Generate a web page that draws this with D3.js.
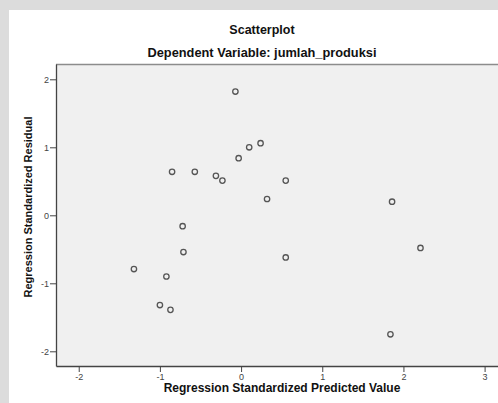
<!DOCTYPE html>
<html>
<head>
<meta charset="utf-8">
<script src="https://cdn.jsdelivr.net/npm/d3@7"></script>
<style>
  body { margin: 0; background: #dcdcdc; }
  svg { display: block; font-family: "Liberation Sans", Arial, sans-serif; }
</style>
</head>
<body>
<svg id="chart" width="498" height="403"></svg>
<script>
// values
const predicted = [-0.07, 0.10, 0.24, -0.03, -0.85, -0.57, -0.31, -0.23, 0.55, 0.32,
                   -0.72, -0.71, 0.55, -1.32, -0.92, -1.00, -0.87, 1.86, 2.21, 1.84];
const residual  = [1.82, 1.00, 1.06, 0.84, 0.64, 0.64, 0.58, 0.51, 0.51, 0.24,
                   -0.16, -0.54, -0.62, -0.79, -0.90, -1.32, -1.39, 0.20, -0.48, -1.75];
const xTicks = [-2, -1, 0, 1, 2, 3];
const yTicks = [-2, -1, 0, 1, 2];

const svg = d3.select('#chart');
const plot = {left: 56, right: 498, top: 64, bottom: 366};

// white panel behind the chart
svg.append('rect')
    .attr('x', 9).attr('y', 10)
    .attr('width', 489).attr('height', 393)
    .attr('fill', '#fff');

const x = d3.scaleLinear().domain([-2.28, 3.165]).range([plot.left, plot.right]);
const y = d3.scaleLinear().domain([-2.216, 2.225]).range([plot.bottom, plot.top]);

svg.append('rect')
    .attr('x', plot.left).attr('y', plot.top)
    .attr('width', plot.right - plot.left).attr('height', plot.bottom - plot.top)
    .attr('fill', '#f0f0f0');

// top frame line
svg.append('line')
    .attr('x1', plot.left).attr('x2', plot.right)
    .attr('y1', plot.top + 0.5).attr('y2', plot.top + 0.5)
    .attr('stroke', '#8c8c8c').attr('stroke-width', 1.5);

const fmt = d => String(d);

const xAxis = svg.append('g')
    .attr('transform', 'translate(0,' + plot.bottom + ')')
    .call(d3.axisBottom(x).tickValues(xTicks).tickFormat(fmt).tickSize(6).tickSizeOuter(0));
const yAxis = svg.append('g')
    .attr('transform', 'translate(' + plot.left + ',0)')
    .call(d3.axisLeft(y).tickValues(yTicks).tickFormat(fmt).tickSize(6).tickSizeOuter(0));

[xAxis, yAxis].forEach(g => {
    g.select('.domain').attr('stroke', '#444').attr('stroke-width', 1.3);
    g.selectAll('.tick line').attr('stroke', '#444');
    g.selectAll('.tick text')
        .attr('fill', '#444')
        .style('font-size', '9px')
        .style('font-family', '"Liberation Sans", Arial, sans-serif');
});
xAxis.selectAll('.tick text').attr('dy', '0.71em').attr('y', 8);
yAxis.selectAll('.tick text').attr('x', -7);

svg.append('g')
    .selectAll('circle')
    .data(predicted)
    .enter().append('circle')
    .attr('cx', (d) => x(d))
    .attr('cy', (d, i) => y(residual[i]))
    .attr('r', 2.7)
    .attr('fill', 'none')
    .attr('stroke', '#555')
    .attr('stroke-width', 1.3);

// titles
svg.append('text')
    .attr('x', 262).attr('y', 34)
    .attr('text-anchor', 'middle')
    .style('font-size', '12.5px').style('font-weight', 'bold')
    .attr('fill', '#111')
    .text('Scatterplot');
svg.append('text')
    .attr('x', 262).attr('y', 57)
    .attr('text-anchor', 'middle')
    .style('font-size', '12.8px').style('font-weight', 'bold')
    .attr('fill', '#111')
    .text('Dependent Variable: jumlah_produksi');

svg.append('text')
    .attr('x', 282).attr('y', 392)
    .attr('text-anchor', 'middle')
    .style('font-size', '12px').style('font-weight', 'bold')
    .attr('fill', '#111')
    .text('Regression Standardized Predicted Value');
svg.append('text')
    .attr('transform', 'translate(32,207) rotate(-90)')
    .attr('text-anchor', 'middle')
    .style('font-size', '11px').style('font-weight', 'bold')
    .attr('fill', '#111')
    .text('Regression Standardized Residual');
</script>
</body>
</html>
